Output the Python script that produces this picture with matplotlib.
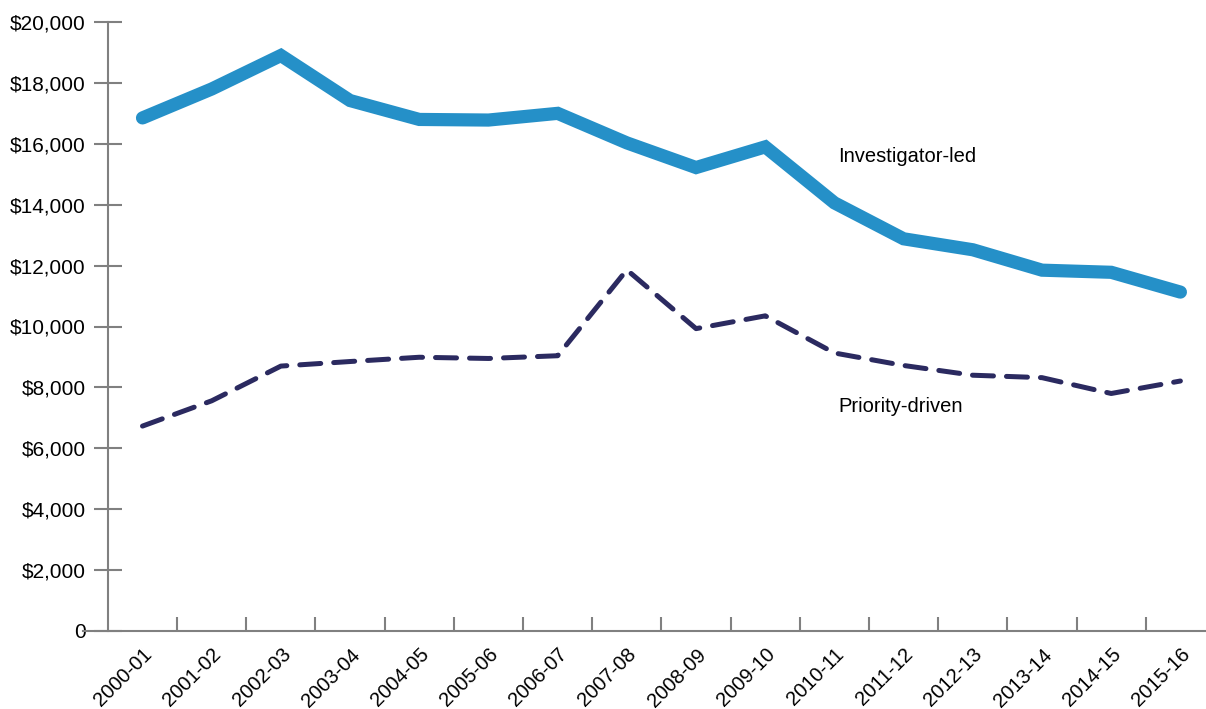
import matplotlib
matplotlib.use("Agg")
import matplotlib.pyplot as plt
from matplotlib.ticker import FuncFormatter

# Data
years = ['2000-01', '2001-02', '2002-03', '2003-04', '2004-05', '2005-06', '2006-07', '2007-08',
         '2008-09', '2009-10', '2010-11', '2011-12', '2012-13', '2013-14', '2014-15', '2015-16']
investigator_led = [16850, 17800, 18900, 17420, 16800, 16780, 17000, 16030,
                    15220, 15900, 14060, 12880, 12520, 11850, 11780, 11130]
priority_driven = [6730, 7560, 8700, 8850, 8990, 8950, 9040, 11860,
                   9930, 10350, 9130, 8720, 8400, 8320, 7800, 8210]
y_ticks = [0, 2000, 4000, 6000, 8000, 10000, 12000, 14000, 16000, 18000, 20000]

plt.rcParams['font.family'] = ['Liberation Sans', 'DejaVu Sans']

grey = '#808080'
blue = '#2590c8'
navy = '#2b2a60'

fig = plt.figure(figsize=(12.06, 7.09), dpi=100)
ax = fig.add_axes([83 / 1206, 1 - 631 / 709, 1123 / 1206, 609 / 709])

x = list(range(len(years)))

ax.plot(x, investigator_led, color=blue, linewidth=9.5, solid_capstyle='round',
        solid_joinstyle='miter', clip_on=False)
ax.plot(x, priority_driven, color=navy, linewidth=3.6, dashes=(4.2, 2.6),
        dash_capstyle='round', clip_on=False)

ax.text(10.05, 15570, 'Investigator-led', fontsize=14.5, ha='left', va='center', color='black')
ax.text(10.05, 7360, 'Priority-driven', fontsize=14.5, ha='left', va='center', color='black')

ax.set_xlim(-0.86, 15.37)
ax.set_ylim(0, 20000)

# spines
for side in ['top', 'right']:
    ax.spines[side].set_visible(False)
ax.spines['left'].set_position(('data', -0.5))
ax.spines['left'].set_color(grey)
ax.spines['left'].set_linewidth(1.5)
ax.spines['bottom'].set_color(grey)
ax.spines['bottom'].set_linewidth(1.5)

# y axis
ax.set_yticks(y_ticks)
ax.yaxis.set_major_formatter(FuncFormatter(lambda v, p: '0' if v == 0 else '${:,.0f}'.format(v)))
ax.tick_params(axis='y', direction='inout', length=20, width=1.5, color=grey,
               labelsize=15, pad=6)

# x axis: ticks between categories, labels at category centres
ax.set_xticks([i + 0.5 for i in range(len(years) - 1)])
ax.set_xticklabels([])
ax.tick_params(axis='x', which='major', direction='in', length=10, width=1.5, color=grey)
ax.set_xticks(x, minor=True)
ax.set_xticklabels(years, minor=True, rotation=45, ha='right', va='top',
                   rotation_mode='anchor', fontsize=14.5)
ax.tick_params(axis='x', which='minor', length=0, pad=10)

fig.savefig('out.png', dpi=100)
